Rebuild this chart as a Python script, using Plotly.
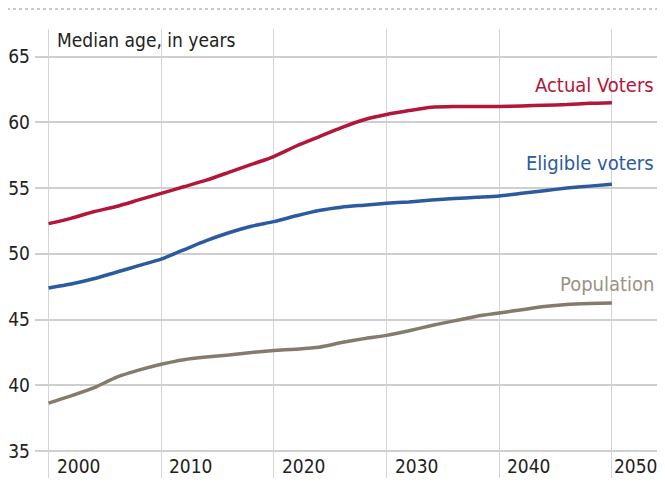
import plotly.graph_objects as go

years = [2000, 2002, 2004, 2006, 2008, 2010, 2012, 2014, 2016, 2018, 2020, 2022, 2024,
         2026, 2028, 2030, 2032, 2034, 2036, 2038, 2040, 2042, 2044, 2046, 2048, 2050]

actual_voters = [52.3, 52.7, 53.2, 53.6, 54.1, 54.6, 55.1, 55.6, 56.2, 56.8, 57.4, 58.2, 58.9,
                 59.6, 60.2, 60.6, 60.9, 61.15, 61.2, 61.2, 61.2, 61.25, 61.3, 61.35, 61.45, 61.5]

eligible_voters = [47.4, 47.7, 48.1, 48.6, 49.1, 49.6, 50.3, 51.0, 51.6, 52.1, 52.45, 52.9, 53.3,
                   53.55, 53.7, 53.85, 53.95, 54.1, 54.2, 54.3, 54.4, 54.6, 54.8, 55.0, 55.15, 55.3]

population = [38.65, 39.2, 39.8, 40.6, 41.15, 41.6, 41.95, 42.15, 42.3, 42.5, 42.65, 42.75, 42.9,
              43.25, 43.55, 43.8, 44.15, 44.55, 44.9, 45.25, 45.5, 45.75, 46.0, 46.15, 46.22, 46.26]

x_ticks = [2000, 2010, 2020, 2030, 2040, 2050]
x_tick_labels = ["2000", "2010", "2020", "2030", "2040", "2050"]
y_ticks = [35, 40, 45, 50, 55, 60, 65]

series_names = ["Actual Voters", "Eligible voters", "Population"]
series_values = [actual_voters, eligible_voters, population]
line_colors = ["#b3163b", "#2b5b9e", "#847b6d"]
label_colors = ["#b3163b", "#2b5b9e", "#9a9284"]
label_y = [62.85, 56.9, 47.7]

FONT = "DejaVu Sans Condensed, Liberation Sans Narrow, Roboto Condensed, Arial Narrow, sans-serif"

fig = go.Figure()
for name, vals, col in zip(series_names, series_values, line_colors):
    fig.add_trace(go.Scatter(x=years, y=vals, mode="lines", name=name,
                             line=dict(color=col, width=3.5, shape="spline", smoothing=0.6)))

for name, ly, col in zip(series_names, label_y, label_colors):
    fig.add_annotation(x=1, xref="paper", y=ly, yref="y", text=name, showarrow=False,
                       xanchor="right", yanchor="middle", xshift=-1,
                       font=dict(family=FONT, size=20, color=col))

for i, (xt, lab) in enumerate(zip(x_ticks, x_tick_labels)):
    fig.add_annotation(x=xt, xref="x", y=0, yref="paper", text=lab, showarrow=False,
                       xanchor="left", yanchor="bottom",
                       xshift=6 if i < len(x_ticks) - 1 else 0, yshift=-1,
                       font=dict(family=FONT, size=19, color="#222222"))

fig.add_annotation(x=2000.6, xref="x", y=66.27, yref="y", text="Median age, in years",
                   showarrow=False, xanchor="left", yanchor="middle",
                   font=dict(family=FONT, size=19, color="#222222"))

fig.add_shape(type="line", xref="paper", yref="paper", x0=-0.045, x1=1.0, y0=1.0445, y1=1.0445,
              line=dict(color="#b8b8b8", width=1.5, dash="dot"))

fig.update_layout(
    width=649, height=475,
    margin=dict(l=27, r=0, t=21, b=5),
    paper_bgcolor="white", plot_bgcolor="white",
    showlegend=False,
    font=dict(family=FONT, size=18, color="#222222"),
)
fig.update_xaxes(range=[1998.8, 2054.0], tickvals=x_ticks, showticklabels=False,
                 showgrid=True, gridcolor="#d4d4d4", gridwidth=1,
                 zeroline=False, showline=False)
fig.update_yaxes(range=[32.95, 67.1], tickvals=y_ticks, showgrid=True, gridcolor="#cfcfcf",
                 gridwidth=1.5, zeroline=False, showline=False,
                 tickfont=dict(family=FONT, size=19, color="#222222"), ticklabelstandoff=4)

fig.write_html("out.html")
